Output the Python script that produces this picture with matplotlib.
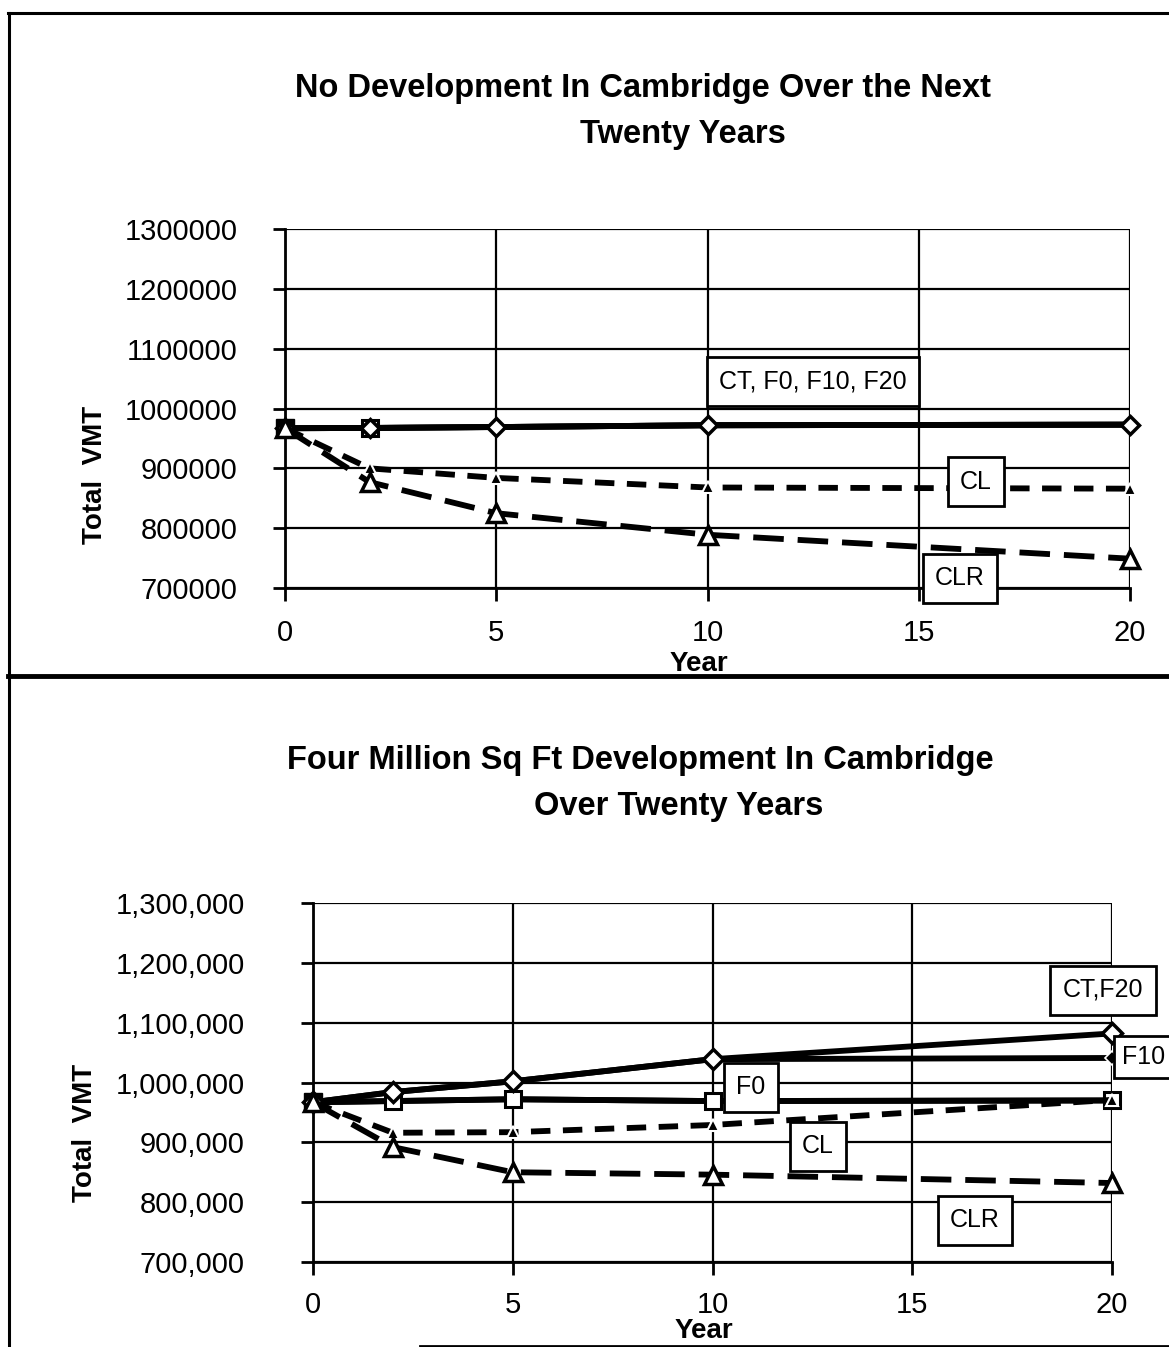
import matplotlib
matplotlib.use("Agg")
import matplotlib.pyplot as plt
from matplotlib.lines import Line2D
from matplotlib.ticker import FuncFormatter

plt.rcParams['font.family'] = ['Liberation Sans', 'DejaVu Sans']
plt.rcParams['lines.scale_dashes'] = False

W, H = 1169, 1347

# ---------------- data ----------------
years = [0, 2, 5, 10, 20]

# Top chart: No development
top_ct = [967000, 967500, 969000, 972000, 973000]   # CT, F0, F10, F20
top_cl = [967000, 900000, 884000, 868000, 866000]
top_clr = [967000, 877000, 825000, 789000, 749000]

# Bottom chart: Four million sq ft development
bot_ct_f20 = [967000, 984000, 1002000, 1039000, 1082000]
bot_f10 = [967000, 984000, 1002000, 1039000, 1041000]
bot_f0 = [967000, 969000, 972000, 969000, 970000]
bot_cl = [967000, 916000, 917000, 929000, 971000]
bot_clr = [967000, 892000, 850000, 846000, 832000]

top_title = ["No Development In Cambridge Over the Next", "Twenty Years"]
bot_title = ["Four Million Sq Ft Development In Cambridge", "Over Twenty Years"]
x_ticks = [0, 5, 10, 15, 20]
y_ticks = [700000, 800000, 900000, 1000000, 1100000, 1200000, 1300000]


def fx(px):
    return px / W


def fy(py):
    return 1 - py / H


fig = plt.figure(figsize=(W / 100, H / 100), dpi=100)
fig.patch.set_facecolor('white')

ax1 = fig.add_axes([fx(285), fy(588), fx(1130) - fx(285), fy(229) - fy(588)])
ax2 = fig.add_axes([fx(313), fy(1262), fx(1112) - fx(313), fy(903) - fy(1262)])

CL_DASH = (0, (14, 9))
CLR_DASH = (0, (22, 10))


def style_axes(ax, fmt, ypad, xpad):
    ax.set_xlim(0, 20)
    ax.set_ylim(700000, 1300000)
    ax.set_xticks(x_ticks)
    ax.set_yticks(y_ticks)
    ax.yaxis.set_major_formatter(FuncFormatter(fmt))
    ax.grid(True, color='black', linewidth=1.6)
    ax.set_axisbelow(True)
    for s in ['top', 'right']:
        ax.spines[s].set_visible(False)
    for s in ['left', 'bottom']:
        ax.spines[s].set_linewidth(2)
    ax.tick_params(axis='both', direction='out', length=9, width=2, labelsize=21)
    ax.tick_params(axis='y', pad=ypad)
    ax.tick_params(axis='x', pad=xpad)


style_axes(ax1, lambda v, p: f"{int(v)}", 25, 13)
style_axes(ax2, lambda v, p: f"{int(v):,}", 40, 12)

LW = 4.2

# ---- top chart lines ----
ax1.plot(years, top_ct, color='black', lw=LW, marker='s', ms=13, mfc='black',
         mec='black', markevery=[0], clip_on=False, zorder=3)
ax1.plot(years, top_ct, color='black', lw=LW, marker='s', ms=12, mfc='white',
         mec='black', mew=2.2, markevery=[1], clip_on=False, zorder=3)
ax1.plot(years, top_ct, color='black', lw=LW, marker='D', ms=9, mfc='white',
         mec='black', mew=2.5, clip_on=False, zorder=4)
ax1.plot(years, top_cl, color='black', lw=LW, linestyle=CL_DASH, marker='^', ms=9,
         mfc='black', mec='white', mew=1.5, clip_on=False, zorder=4)
ax1.plot(years, top_clr, color='black', lw=LW, linestyle=CLR_DASH, marker='^', ms=13,
         mfc='white', mec='black', mew=2.5, clip_on=False, zorder=5)

# ---- bottom chart lines ----
ax2.plot(years, bot_f0, color='black', lw=LW, marker='s', ms=13, mfc='black',
         mec='black', markevery=[0], clip_on=False, zorder=3)
ax2.plot(years, bot_f0, color='black', lw=LW, marker='s', ms=11, mfc='white',
         mec='black', mew=2.2, markevery=[1, 2, 3, 4], clip_on=False, zorder=3)
ax2.plot(years, bot_f10, color='black', lw=LW, marker='D', ms=7, mfc='black',
         mec='white', mew=1.2, clip_on=False, zorder=3)
ax2.plot(years, bot_ct_f20, color='black', lw=LW, marker='D', ms=10, mfc='white',
         mec='black', mew=2.5, clip_on=False, zorder=4)
ax2.plot(years, bot_cl, color='black', lw=LW, linestyle=CL_DASH, marker='^', ms=9,
         mfc='black', mec='white', mew=1.5, clip_on=False, zorder=4)
ax2.plot(years, bot_clr, color='black', lw=LW, linestyle=CLR_DASH, marker='^', ms=13,
         mfc='white', mec='black', mew=2.5, clip_on=False, zorder=5)

# ---- titles ----
tkw = dict(fontsize=23.5, fontweight='bold', ha='center', va='center')
fig.text(fx(643), fy(88), top_title[0], **tkw)
fig.text(fx(683), fy(135), top_title[1], **tkw)
fig.text(fx(640), fy(760), bot_title[0], **tkw)
fig.text(fx(679), fy(807), bot_title[1], **tkw)

# axis labels
lkw = dict(fontsize=20, fontweight='bold', ha='center', va='center')
fig.text(fx(95), fy(475), "Total  VMT", rotation=90, **lkw)
fig.text(fx(85), fy(1133), "Total  VMT", rotation=90, **lkw)
fig.text(fx(699), fy(664), "Year", **lkw)
fig.text(fx(704), fy(1331), "Year", **lkw)

# ---- annotation boxes ----
bkw = dict(fontsize=18, ha='center', va='center', zorder=10,
           bbox=dict(boxstyle='square,pad=0.5', fc='white', ec='black', lw=2))
fig.text(fx(813), fy(381), "CT, F0, F10, F20", **bkw)
fig.text(fx(976), fy(482), "CL", **bkw)
fig.text(fx(960), fy(578), "CLR", **bkw)
fig.text(fx(1103), fy(990), "CT,F20", **bkw)
fig.text(fx(751), fy(1087), "F0", **bkw)
fig.text(fx(818), fy(1146), "CL", **bkw)
fig.text(fx(975), fy(1220), "CLR", **bkw)
fig.text(fx(1144), fy(1057), "F10", fontsize=18, ha='center', va='center', zorder=10,
         bbox=dict(boxstyle='square,pad=0.35', fc='white', ec='black', lw=2))

# ---- page frame lines ----
fig.add_artist(Line2D([fx(8), 1], [fy(13), fy(13)], color='black', lw=2.2, zorder=20))
fig.add_artist(Line2D([fx(9), fx(9)], [fy(13), 0], color='black', lw=2.2, zorder=20))
fig.add_artist(Line2D([fx(8), 1], [fy(676), fy(676)], color='black', lw=3.5, zorder=20))
fig.add_artist(Line2D([fx(420), 1], [fy(1346), fy(1346)], color='black', lw=2, zorder=20))

fig.savefig("out.png", dpi=100, facecolor='white')
